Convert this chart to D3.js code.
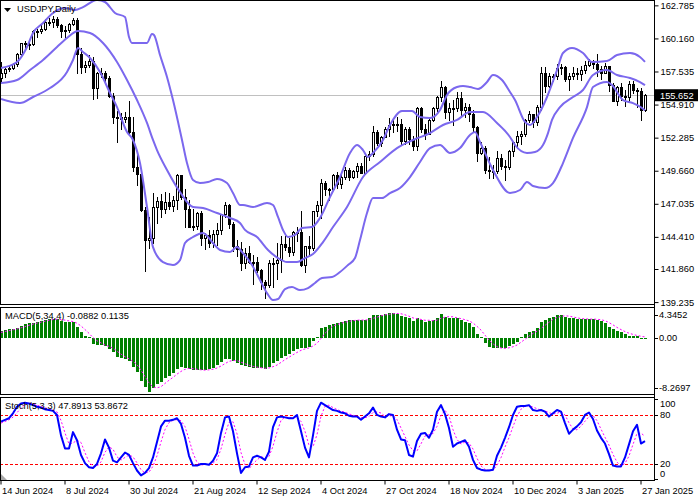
<!DOCTYPE html>
<html><head><meta charset="utf-8">
<script src="https://cdn.jsdelivr.net/npm/d3@7/dist/d3.min.js"></script>
<style>
html,body{margin:0;padding:0;background:#fff;}
svg{display:block;}
text{font-family:"Liberation Sans",Arial,sans-serif;font-size:9.3px;fill:#000;}
</style></head><body>
<svg id="chart" width="700" height="500"></svg>
<script>
// ---------------- DATA ----------------
const symbolTitle = "USDJPY,Daily";
const dateLabels = ["14 Jun 2024","8 Jul 2024","30 Jul 2024","21 Aug 2024","12 Sep 2024","4 Oct 2024","27 Oct 2024","18 Nov 2024","10 Dec 2024","3 Jan 2025","27 Jan 2025"];
const dateLabelIdx = [0,16,32,48,64,80,96,112,128,144,160];
const priceTicks = [162.785,160.160,157.535,154.910,152.285,149.660,147.035,144.410,141.860,139.235];
const lastPrice = 155.652;
const macdLabels = ["4.3452","0.00","-8.2697"];
const macdLabelVals = [4.3452,0,-8.2697];
const stochLevels = [80,20];
const stochLabels = ["100","80","20","0"];

// OHLC (daily bars)
const open = [157.05,157.38,157.72,157.85,158.10,158.95,159.78,159.68,159.70,160.75,160.75,160.88,161.45,161.45,161.70,161.20,160.75,160.80,161.30,161.65,158.90,157.90,158.05,158.35,156.20,157.40,157.45,157.00,155.60,153.90,153.95,153.75,153.95,152.75,149.95,149.40,146.55,144.20,144.30,146.75,147.25,146.60,147.20,146.85,147.30,149.30,147.60,146.60,145.20,145.30,146.30,144.35,144.55,143.90,144.60,144.95,146.20,146.90,145.45,143.70,143.45,142.30,143.10,142.40,142.40,141.80,140.80,140.60,142.35,142.30,142.60,143.85,143.60,143.20,144.80,144.80,142.20,143.65,143.50,146.45,146.90,148.70,148.20,148.20,149.30,148.60,149.15,149.75,149.20,149.60,150.05,149.50,150.85,151.00,152.75,151.85,152.30,153.00,153.30,153.40,153.40,152.00,152.95,152.15,151.60,154.60,152.95,152.60,153.70,154.60,155.50,156.30,154.30,154.65,154.65,155.45,154.50,154.75,154.20,153.10,151.10,151.50,149.75,149.60,149.60,150.65,150.05,149.95,151.20,151.90,152.45,152.60,153.65,154.15,153.50,154.70,157.40,156.40,157.20,157.15,157.80,157.90,156.95,157.20,157.45,157.30,157.65,158.05,158.35,158.10,157.75,157.45,157.95,156.50,155.20,156.30,155.60,155.50,156.55,156.05,156.00,154.50];
const high = [158.26,157.80,158.05,158.20,159.00,159.82,159.95,159.85,160.85,160.88,161.30,161.70,161.75,161.95,161.85,161.30,161.15,161.40,161.80,161.75,159.40,158.40,158.85,158.65,157.50,157.85,157.60,157.20,155.85,154.40,154.25,154.30,155.20,153.90,150.90,149.60,146.75,145.95,147.90,147.55,147.80,148.00,147.90,147.65,149.40,149.30,148.20,147.30,146.60,146.40,146.50,144.75,144.95,144.95,145.55,146.25,147.20,147.00,145.60,144.20,144.00,143.50,143.65,142.95,142.85,141.85,141.00,142.55,142.70,143.95,144.50,144.50,144.35,144.85,145.20,146.50,143.70,144.50,146.50,147.25,149.00,148.85,148.30,149.40,149.55,149.35,149.95,149.90,149.75,150.30,150.30,150.90,151.20,153.20,152.90,152.45,153.10,153.85,153.85,153.90,153.80,153.10,153.15,152.40,154.70,154.70,153.40,153.85,154.75,155.60,156.75,156.40,155.00,155.25,155.90,155.90,155.00,154.95,154.50,153.20,151.95,151.60,150.75,150.10,151.25,150.95,150.50,151.30,151.95,152.80,152.85,153.75,154.40,154.20,154.90,157.90,157.90,157.40,157.35,158.10,158.10,158.00,157.45,157.90,157.80,158.00,158.40,158.55,158.45,158.90,158.00,158.20,158.00,156.60,156.40,156.60,156.10,156.75,156.80,156.25,156.20,155.75];
const low = [156.68,157.10,157.60,157.75,157.95,158.75,159.25,159.35,159.60,160.30,160.60,160.80,161.25,161.10,161.05,160.25,160.30,160.70,161.20,157.40,157.40,157.50,157.90,155.35,155.40,157.10,156.55,155.55,153.45,151.95,153.00,153.55,152.55,149.60,148.50,146.45,141.70,143.55,143.90,145.55,146.00,146.30,146.60,146.50,146.60,147.40,145.20,145.20,144.95,145.00,143.80,143.45,143.60,143.60,143.80,144.60,146.00,145.15,143.30,142.90,141.75,141.90,142.30,140.70,141.60,140.30,139.58,140.45,140.45,141.05,141.65,143.40,142.90,143.00,144.10,142.10,141.65,142.95,143.40,146.05,145.90,147.70,147.35,148.10,148.30,148.30,149.00,148.95,149.05,149.20,149.50,149.40,150.50,150.80,151.70,151.60,152.30,152.40,152.75,152.80,151.80,151.80,151.80,151.30,151.30,152.70,152.15,152.60,153.60,154.40,155.20,153.85,153.65,153.30,154.40,153.90,153.90,153.60,152.70,150.45,151.00,149.45,149.10,149.05,149.50,149.80,148.95,149.80,150.85,151.50,151.75,152.40,153.55,153.10,153.25,154.45,155.90,156.30,156.80,156.95,157.35,156.80,156.10,156.90,156.90,156.85,157.40,157.95,157.80,157.20,156.95,157.40,155.95,155.20,154.90,155.30,154.80,155.20,155.80,154.75,153.70,154.40];
const close = [157.38,157.72,157.85,158.10,158.95,159.78,159.68,159.70,160.75,160.75,160.88,161.45,161.45,161.70,161.20,160.75,160.80,161.30,161.65,158.90,157.90,158.05,158.35,156.20,157.40,157.45,157.00,155.60,153.90,153.95,153.75,153.95,152.75,149.95,149.40,146.55,144.20,144.30,146.75,147.25,146.60,147.20,146.85,147.30,149.30,147.60,146.60,145.20,145.30,146.30,144.35,144.55,143.90,144.60,144.95,146.20,146.90,145.45,143.70,143.45,142.30,143.10,142.40,142.40,141.80,140.80,140.60,142.35,142.30,142.60,143.85,143.60,143.20,144.80,144.80,142.20,143.65,143.50,146.45,146.90,148.70,148.20,148.20,149.30,148.60,149.15,149.75,149.20,149.60,150.05,149.50,150.85,151.00,152.75,151.85,152.30,153.00,153.30,153.40,153.40,152.00,152.95,152.15,151.60,154.60,152.95,152.60,153.70,154.60,155.50,156.30,154.30,154.65,154.65,155.45,154.50,154.75,154.20,153.10,151.10,151.50,149.75,149.60,149.60,150.65,150.05,149.95,151.20,151.90,152.45,152.60,153.65,154.15,153.50,154.70,157.40,156.40,157.20,157.15,157.80,157.90,156.95,157.20,157.45,157.30,157.65,158.05,158.35,158.10,157.75,157.45,157.95,156.50,155.20,156.30,155.60,155.50,156.55,156.05,156.00,154.50,155.652];

// Bollinger bands: [bar index, price]
const bbUpper = [[0,157.81],[4,158.29],[6.5,159.48],[8,160.59],[10.5,161.38],[13,162.18],[16,162.57],[18.5,162.42],[20.5,162.65],[24,163.21],[26,163.05],[28.5,162.18],[31,161.86],[32,160.27],[32.75,159.80],[36.5,159.80],[37.75,160.51],[38.25,160.43],[39.75,158.84],[41.5,157.10],[43,155.27],[45.25,152.10],[46.5,150.27],[48,148.92],[49.75,148.68],[51.75,148.76],[54,149.00],[56.5,148.68],[58,147.89],[59.75,146.94],[60.5,146.94],[63,146.78],[66.5,147.10],[68,146.94],[69.25,145.99],[70.5,144.96],[71.75,144.40],[73.5,144.56],[75.25,145.11],[77.75,145.19],[79.75,145.91],[82.25,147.57],[84.75,149.16],[87.25,151.07],[89,151.70],[90.5,151.30],[91.75,150.75],[93,151.07],[95.5,152.10],[97.25,153.29],[100.25,154.40],[102.75,154.40],[104.75,153.92],[107.25,153.84],[109.75,154.48],[111.5,155.67],[114,156.30],[115.5,156.38],[117.25,156.30],[119.25,156.15],[121.5,156.70],[123,157.26],[125.25,156.86],[127.25,155.91],[128.5,155.27],[131,153.53],[132.25,153.29],[134,153.92],[136.5,155.51],[139,157.65],[140.5,159.00],[142.75,159.40],[145.5,159.00],[147.75,158.29],[151.5,158.37],[154,158.84],[157.25,159.00],[159.75,158.69],[161,158.30]];
const bbMiddle = [[0,156.62],[4,156.86],[7.25,157.65],[10.5,158.45],[14,159.48],[16.5,160.19],[19.25,160.75],[22.25,160.59],[25.5,159.80],[29,158.29],[31.5,156.86],[34,155.27],[36.5,153.45],[38,152.10],[39,151.30],[41.5,149.72],[44.75,147.97],[48,146.78],[50.5,146.70],[54,146.30],[57.25,145.91],[59.75,145.51],[61,144.96],[64,144.40],[66.75,143.37],[69.25,142.73],[71.5,142.41],[74,142.41],[76,142.73],[78,143.05],[80.5,144.00],[83,145.19],[86.5,146.78],[90.5,149.16],[94.75,150.35],[99,151.46],[103,152.10],[107.25,152.65],[110.5,153.29],[114,153.69],[117.25,154.32],[120.5,154.32],[124,153.45],[127.25,152.34],[128.5,151.70],[131.5,151.07],[133.5,151.15],[135.5,151.70],[136.75,152.65],[137.75,153.69],[139.75,154.71],[143,155.51],[145.5,156.07],[148,157.26],[151.5,157.65],[154,157.26],[157.25,157.02],[159.75,156.70],[161,156.45]];
const bbLower = [[0,155.35],[4.75,155.03],[8,155.51],[12.25,156.22],[16.5,157.49],[18,158.45],[19.25,159.40],[20.5,159.08],[22.25,158.61],[24.75,157.49],[27.25,155.83],[29,154.71],[31.5,152.73],[33,152.10],[34.75,150.27],[36.5,146.78],[38,143.60],[40.5,142.41],[43,142.18],[44.75,142.57],[46,143.92],[48,144.40],[50.5,144.72],[53,143.92],[54.75,143.37],[57.25,143.21],[59,143.60],[60.25,143.21],[62.75,142.18],[64.75,140.98],[66.5,139.95],[68,139.40],[69.25,139.48],[71,140.27],[72.75,140.43],[74.75,140.19],[76.75,140.35],[78.5,140.75],[80.25,141.14],[82.75,141.22],[84.75,141.62],[86.75,142.18],[88.5,142.73],[89.75,144.16],[91.5,146.30],[93,147.49],[95.25,147.49],[97.25,147.89],[99.75,148.29],[102.25,149.16],[104.75,150.35],[107.25,151.46],[109.75,151.70],[112.25,151.07],[114.75,151.46],[117.25,152.50],[118.5,152.73],[119.75,151.94],[123,149.72],[127.25,147.89],[129.75,148.13],[131.5,148.76],[133,148.45],[136,148.29],[138,148.68],[140.5,150.27],[143,152.26],[146.5,154.71],[148,156.30],[151.5,156.70],[152.75,156.46],[155.5,155.27],[158,155.03],[160.25,154.64],[161,154.45]];

// MACD(5,34,4)
const macdHist = [0.94,1.08,1.23,1.23,1.42,1.70,1.89,2.03,2.08,2.26,2.41,2.55,2.64,2.69,2.59,2.41,2.26,2.26,2.22,1.46,0.75,0.19,0.09,-0.94,-1.04,-1.04,-1.18,-1.60,-2.08,-2.69,-2.92,-3.02,-3.30,-4.10,-4.81,-6.13,-6.93,-7.64,-7.17,-6.60,-6.32,-5.75,-5.42,-4.95,-4.48,-4.20,-4.25,-4.43,-4.58,-4.58,-4.58,-4.58,-4.43,-4.25,-3.87,-3.49,-3.02,-3.02,-3.30,-3.63,-3.87,-3.96,-4.10,-4.25,-4.34,-4.25,-4.43,-4.10,-3.63,-3.30,-2.92,-2.55,-2.26,-1.89,-1.60,-1.42,-1.42,-1.37,-0.47,0.10,1.32,1.56,1.79,1.98,2.12,2.26,2.41,2.50,2.50,2.50,2.50,2.50,2.74,3.20,3.20,3.20,3.30,3.54,3.54,3.35,3.11,2.97,2.74,2.36,2.74,2.50,2.26,2.36,2.50,2.83,3.30,2.97,2.83,2.74,2.74,2.50,2.26,2.03,1.56,0.57,0.14,-0.80,-1.27,-1.51,-1.51,-1.51,-1.51,-1.18,-0.90,-0.57,0.09,0.52,0.85,0.99,1.32,2.17,2.50,2.74,2.97,3.21,3.21,2.97,2.83,2.74,2.69,2.59,2.64,2.64,2.64,2.50,2.36,2.12,1.56,1.23,0.94,0.85,0.47,0.28,0.28,0.24,0.02,-0.0882];
const macdSignal = [0.75,0.88,1.00,1.12,1.24,1.40,1.56,1.76,1.93,2.07,2.20,2.33,2.47,2.57,2.62,2.58,2.49,2.38,2.29,2.05,1.67,1.16,0.62,0.02,-0.43,-0.73,-1.05,-1.22,-1.48,-1.89,-2.32,-2.68,-2.98,-3.34,-3.81,-4.59,-5.49,-6.38,-6.97,-7.09,-6.93,-6.46,-6.02,-5.61,-5.15,-4.76,-4.47,-4.34,-4.37,-4.46,-4.54,-4.58,-4.54,-4.46,-4.28,-4.01,-3.66,-3.35,-3.21,-3.24,-3.46,-3.69,-3.89,-4.05,-4.16,-4.24,-4.32,-4.28,-4.10,-3.87,-3.49,-3.10,-2.76,-2.41,-2.08,-1.79,-1.58,-1.45,-1.17,-0.79,-0.11,0.63,1.19,1.66,1.86,2.04,2.19,2.32,2.42,2.48,2.50,2.50,2.56,2.74,2.91,3.09,3.23,3.31,3.40,3.43,3.39,3.24,3.04,2.80,2.70,2.59,2.47,2.47,2.41,2.49,2.75,2.90,2.98,2.96,2.82,2.70,2.56,2.38,2.09,1.61,1.08,0.37,-0.34,-0.86,-1.27,-1.45,-1.51,-1.43,-1.28,-1.04,-0.64,-0.22,0.22,0.61,0.92,1.33,1.75,2.18,2.60,2.86,3.03,3.09,3.06,2.94,2.81,2.71,2.67,2.64,2.63,2.61,2.54,2.41,2.14,1.82,1.46,1.15,0.87,0.64,0.47,0.32,0.21,0.1135];

// Stochastic(5,3,3)
const stochMain = [72,74,76,82,90,94,95,94,92,90,89,87,86,85,80,55,39,39,59,49,31,21,16,15,20,33,50,40,24,22,28,34,31,21,12,6,9,15,28,47,66,73,73,74,76,69,52,30,18,18,20,20,19,24,33,58,77,78,60,33,9,16,17,28,30,28,25,35,65,77,78,77,76,76,80,60,40,28,55,85,95,92,89,86,85,83,82,79,78,78,74,78,82,89,80,78,77,81,80,62,50,49,31,29,48,57,58,52,62,84,92,81,64,41,45,47,49,41,25,15,13,12,12,13,30,40,52,65,80,90,91,91,92,86,85,86,84,78,82,86,84,70,57,62,66,71,80,83,75,61,52,45,32,18,17,17,28,44,60,68,45,47.89];
const stochSignal = [70,72,74,77.3,82.7,88.7,93,94.3,93.7,92,90.3,88.7,87.3,86,83.7,73.3,58,44.3,45.7,49,46.3,33.7,22.7,17.3,17,22.7,34.3,41,38,28.7,24.7,28,31,28.7,21.3,13,9,10,17.3,30,47,62,70.7,73.3,74.3,73,65.7,50.3,33.3,22,18.7,19.3,19.7,21,25.3,38.3,56,71,71.7,57,34,19.3,14,20.3,25,28.7,27.7,29.3,41.7,59,73.3,77.3,77,76.3,77.3,72,60,42.7,41,56,78.3,90.7,92,89,86.7,84.7,83.3,81.3,79.7,78.3,76.7,76.7,78,83,83.7,82.3,78.3,78.7,79.3,74.3,64,53.7,43.3,36.3,36,44.7,54.3,55.7,57.3,66,79.3,85.7,79,62,50,44.3,47,45.7,38.3,27,17.7,13.3,12.3,12.3,18.3,27.7,40.7,52.3,65.7,78.3,87,90.7,91.3,89.7,87.7,85.7,85,82.7,81.3,82,84,80,70.3,63,61.7,66.3,72.3,78,79.3,73,62.7,52.7,43,31.7,22.3,17.3,20.7,29.7,44,57.3,57.7,53.87];

// ---------------- LAYOUT ----------------
const svg = d3.select("#chart");
const AX = 654;                       // right axis line
const P = {main:[0,304], macd:[307,394], stoch:[397,480]};
const n = close.length;
const x = d3.scaleLinear().domain([0, n-1]).range([1, 1 + 4*(n-1)]);
const yP = d3.scaleLinear().domain([141.86, 162.785]).range([269, 5.35]);
const yM = d3.scaleLinear().domain([-8.2697, 4.3452]).range([396.2, 307]);
const yS = d3.scaleLinear().domain([0, 100]).range([480.3, 398.6]);

svg.append("rect").attr("width",700).attr("height",500).attr("fill","#fff");
const defs = svg.append("defs");
Object.entries(P).forEach(([k,[t,b]]) => {
  defs.append("clipPath").attr("id","clip-"+k).append("rect")
    .attr("x",1).attr("y",t+1).attr("width",AX-1).attr("height",b-t-1);
});

// ---- main panel ----
const gMain = svg.append("g").attr("clip-path","url(#clip-main)");
// current price line
gMain.append("line").attr("x1",0).attr("x2",AX).attr("y1",Math.round(yP(lastPrice))+0.5).attr("y2",Math.round(yP(lastPrice))+0.5)
  .attr("stroke","#c0c0c0").attr("stroke-width",1);

// candles
const idx = d3.range(n);
const cg = gMain.append("g");
idx.forEach(i => {
  const cx = Math.round(x(i));
  const o = open[i], c = close[i];
  cg.append("line").attr("x1",cx+0.5).attr("x2",cx+0.5)
    .attr("y1",Math.round(yP(high[i]))).attr("y2",Math.round(yP(low[i]))+1)
    .attr("stroke","#000").attr("stroke-width",1);
  const top = Math.round(yP(Math.max(o,c))), bot = Math.round(yP(Math.min(o,c)));
  if (c >= o) {
    cg.append("rect").attr("x",cx-0.5).attr("y",top+0.5).attr("width",2).attr("height",Math.max(bot-top,1))
      .attr("fill","#fff").attr("stroke","#000").attr("stroke-width",1);
  } else {
    cg.append("rect").attr("x",cx-1).attr("y",top).attr("width",3).attr("height",Math.max(bot-top,1)+1)
      .attr("fill","#000");
  }
});

// Bollinger bands
const bbLine = d3.line().x(d => x(d[0])).y(d => yP(d[1])).curve(d3.curveMonotoneX);
[bbUpper, bbMiddle, bbLower].forEach(b => {
  gMain.append("path").attr("d", bbLine(b)).attr("fill","none")
    .attr("stroke","#7b68ee").attr("stroke-width",2).attr("stroke-linejoin","round");
});

// title
svg.append("path").attr("d","M4,8 L11,8 L7.5,12 Z").attr("fill","#000");
svg.append("text").attr("x",17).attr("y",12).text(symbolTitle);

// ---- MACD panel ----
const gMacd = svg.append("g").attr("clip-path","url(#clip-macd)");
const y0 = Math.round(yM(0));
idx.forEach(i => {
  const cx = Math.round(x(i));
  const yv = Math.round(yM(macdHist[i]));
  const t = Math.min(yv, y0), h = Math.max(Math.abs(yv - y0), 1);
  gMacd.append("rect").attr("x",cx-1).attr("y",t).attr("width",3).attr("height",h).attr("fill","#008000");
});
gMacd.append("path").attr("d", d3.line().x((d,i)=>x(i)).y(d=>yM(d))(macdSignal))
  .attr("fill","none").attr("stroke","#ff00ff").attr("stroke-width",1).attr("stroke-dasharray","2,2");
svg.append("text").attr("x",5).attr("y",319).text("MACD(5,34,4) -0.0882 0.1135");

// ---- Stochastic panel ----
const gSt = svg.append("g").attr("clip-path","url(#clip-stoch)");
stochLevels.forEach(l => {
  gSt.append("line").attr("x1",0).attr("x2",AX).attr("y1",Math.round(yS(l))+0.5).attr("y2",Math.round(yS(l))+0.5)
    .attr("stroke","#ff0000").attr("stroke-width",1).attr("stroke-dasharray","3,2");
});
gSt.append("path").attr("d", d3.line().x((d,i)=>x(i)).y(d=>yS(d))(stochSignal))
  .attr("fill","none").attr("stroke","#ff00ff").attr("stroke-width",1).attr("stroke-dasharray","2,2");
gSt.append("path").attr("d", d3.line().x((d,i)=>x(i)).y(d=>yS(d))(stochMain))
  .attr("fill","none").attr("stroke","#0000ff").attr("stroke-width",2).attr("stroke-linejoin","round");
svg.append("text").attr("x",5).attr("y",409).text("Stoch(5,3,3) 47.8913 53.8672");
svg.append("path").attr("d","M1,474 L1,480 L7,480 Z").attr("fill","#a8a8a8");

// ---- frames ----
Object.values(P).forEach(([t,b]) => {
  svg.append("rect").attr("x",0.5).attr("y",t+0.5).attr("width",AX).attr("height",b-t)
    .attr("fill","none").attr("stroke","#000").attr("stroke-width",1);
});
svg.append("line").attr("x1",AX+0.5).attr("x2",AX+0.5).attr("y1",0).attr("y2",481).attr("stroke","#000");

// ---- price axis ----
const pAxis = d3.axisRight(yP).tickValues(priceTicks).tickFormat(d3.format(".3f")).tickSize(4).tickSizeOuter(0);
const gPA = svg.append("g").attr("transform",`translate(${AX+0.5},0)`).call(pAxis);
gPA.select(".domain").remove();
gPA.selectAll("text").style("font-family","Liberation Sans, Arial, sans-serif").style("font-size","9.3px").attr("x",6);
// current price tag
const yl = yP(lastPrice);
svg.append("rect").attr("x",AX+1).attr("y",yl-6).attr("width",43).attr("height",12).attr("fill","#000");
svg.append("text").attr("x",AX+6).attr("y",yl+3.3).attr("fill","#fff").style("fill","#fff").text(lastPrice.toFixed(3));

// ---- MACD axis labels ----
macdLabelVals.forEach((v,i) => {
  const yy = Math.min(Math.max(yM(v), 315), 388);
  svg.append("line").attr("x1",AX).attr("x2",AX+4).attr("y1",Math.round(yy)+0.5).attr("y2",Math.round(yy)+0.5).attr("stroke","#000");
  svg.append("text").attr("x",AX+5).attr("y",yy+3.3).text(macdLabels[i]);
});
// ---- Stoch axis labels ----
[100,80,20,0].forEach((v,i) => {
  const yy = Math.min(Math.max(yS(v), 404), 474);
  svg.append("line").attr("x1",AX).attr("x2",AX+4).attr("y1",Math.round(yS(v) < 399 ? 399 : (yS(v) > 479 ? 479 : yS(v)))+0.5)
    .attr("y2",Math.round(yS(v) < 399 ? 399 : (yS(v) > 479 ? 479 : yS(v)))+0.5).attr("stroke","#000");
  svg.append("text").attr("x",AX+6).attr("y",yy+3.3).text(stochLabels[i]);
});

// ---- date axis ----
const dAxis = d3.axisBottom(x).tickValues(dateLabelIdx).tickFormat((d,i)=>dateLabels[i]).tickSize(4).tickSizeOuter(0);
const gDA = svg.append("g").attr("transform","translate(-0.5,480.5)").call(dAxis);
gDA.select(".domain").remove();
gDA.selectAll("text").attr("text-anchor","start").attr("x",1).attr("y",6.5)
  .style("font-family","Liberation Sans, Arial, sans-serif").style("font-size","9.3px");
</script>
</body></html>
